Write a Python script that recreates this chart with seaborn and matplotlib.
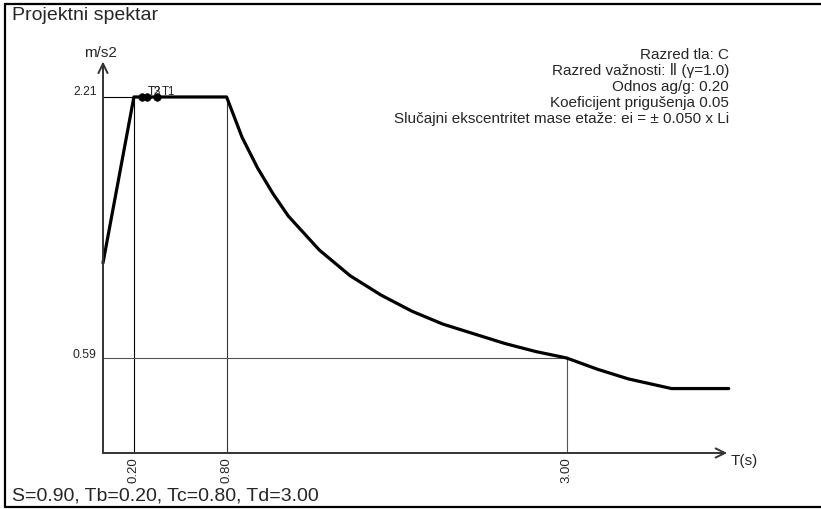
import numpy as np
import pandas as pd
import matplotlib
matplotlib.use("Agg")
import matplotlib.pyplot as plt
import seaborn as sns

# ==============================
# Data
# ==============================
period = [0.0, 0.20, 0.80, 0.90, 1.00, 1.10, 1.20, 1.40, 1.60, 1.80, 2.00,
          2.20, 2.40, 2.60, 2.80, 3.00, 3.20, 3.40, 3.68, 4.05]
accel = [1.18, 2.21, 2.21, 1.96, 1.77, 1.61, 1.47, 1.26, 1.10, 0.98, 0.88,
         0.80, 0.74, 0.68, 0.63, 0.59, 0.52, 0.46, 0.40, 0.40]

mode_names = ["T3", "T2", "T1"]
mode_periods = [0.25, 0.285, 0.35]
mode_accel = [2.21, 2.21, 2.21]

tb, tc, td = 0.20, 0.80, 3.00
plateau, at_td = 2.21, 0.59
x_ticks = ["0.20", "0.80", "3.00"]

info_lines = [
    "Razred tla: C",
    "Razred važnosti: Ⅱ (γ=1.0)",
    "Odnos ag/g: 0.20",
    "Koeficijent prigušenja 0.05",
    "Slučajni ekscentritet mase etaže: ei = ± 0.050 x Li",
]
title = "Projektni spektar"
footer = "S=0.90, Tb=0.20, Tc=0.80, Td=3.00"

df = pd.DataFrame({"T": period, "Se": accel})
modes = pd.DataFrame({"T": mode_periods, "Se": mode_accel, "name": mode_names})

# ==============================
# Figure
# ==============================
sns.set_theme(style="white")
plt.rcParams["font.family"] = ["Liberation Sans", "DejaVu Sans"]

W, H = 821, 509
fig = plt.figure(figsize=(W / 100, H / 100), dpi=100)
ax = fig.add_axes([0, 0, 1, 1])

# pixel placement of the origin and scale
x0, sx = 103, 154.5
y0, sy = 453, 161.1
ax.set_xlim(-x0 / sx, (W - x0) / sx)
ax.set_ylim((y0 - H) / sy, y0 / sy)
ax.axis("off")

# helper lines
ax.plot([0, tc], [plateau, plateau], color="black", lw=0.8)
ax.plot([tb, tb], [0, plateau], color="black", lw=0.8)
ax.plot([tc, tc], [0, plateau], color="#333333", lw=0.8)
ax.plot([0, td], [at_td, at_td], color="#555555", lw=0.8)
ax.plot([td, td], [0, at_td], color="#555555", lw=0.8)

# axes with open arrows
arrow = dict(arrowstyle="->,head_length=0.45,head_width=0.22", lw=1.4,
             color="#333333", mutation_scale=15, shrinkA=0, shrinkB=0)
ax.annotate("", xy=(4.04, 0), xytext=(0, 0), arrowprops=arrow)
ax.annotate("", xy=(0, 2.43), xytext=(0, 0), arrowprops=arrow)

# spectrum
sns.lineplot(data=df, x="T", y="Se", ax=ax, color="black", lw=2.3,
             estimator=None, sort=False, legend=False)
sns.scatterplot(data=modes, x="T", y="Se", ax=ax, color="black", s=30,
                edgecolor="black", legend=False, zorder=5)
# T2 sits under T3 as in the original
label_x = [0.291, 0.291, 0.382]
for lx, (_, r) in zip(label_x, modes.iterrows()):
    ax.text(lx, r["Se"] + 0.01, r["name"], fontsize=8.3,
            ha="left", va="baseline")

# tick labels
for lab in x_ticks:
    ax.text(float(lab), -0.025, lab, rotation=90, fontsize=9.5,
            ha="center", va="top")
ax.text(-0.04, 2.242, "2.21", fontsize=8.8, ha="right", va="center")
ax.text(-0.04, 0.608, "0.59", fontsize=8.8, ha="right", va="center")
ax.text(-0.12, 2.44, "m/s2", fontsize=11, ha="left", va="bottom")
ax.text(4.06, -0.05, "T(s)", fontsize=11, ha="left", va="center")

# info block
for i, line in enumerate(info_lines):
    fig.text(729 / W, 1 - (55 + 16 * i) / H, line, fontsize=11,
             ha="right", va="center")

fig.text(12 / W, 1 - 16 / H, title, fontsize=14, ha="left", va="center")
fig.text(12 / W, 1 - 496 / H, footer, fontsize=14, ha="left", va="center")

# frame
frame = dict(color="black", lw=1.6, transform=fig.transFigure)
fig.add_artist(plt.Line2D([5 / W, 1], [1 - 4 / H, 1 - 4 / H], **frame))
fig.add_artist(plt.Line2D([5 / W, 1], [2 / H, 2 / H], **frame))
fig.add_artist(plt.Line2D([5 / W, 5 / W], [2 / H, 1 - 4 / H], **frame))

fig.savefig("out.png", dpi=100)
